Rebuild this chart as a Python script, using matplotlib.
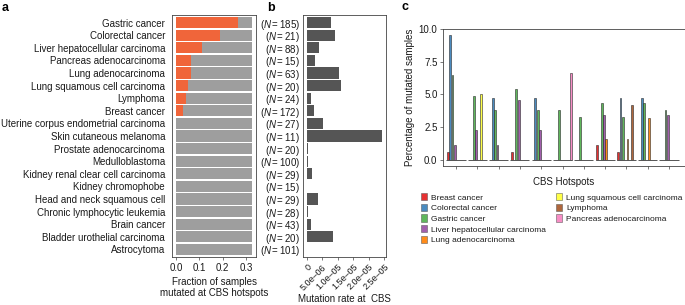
import matplotlib.pyplot as plt
from matplotlib.patches import Patch
import numpy as np

plt.rcParams['font.family'] = ['Liberation Sans', 'DejaVu Sans']
plt.rcParams['mathtext.fontset'] = 'custom'
plt.rcParams['mathtext.rm'] = 'Liberation Sans'
plt.rcParams['mathtext.it'] = 'Liberation Sans:italic'

# panel a / b data
cancers = ["Gastric cancer", "Colorectal cancer", "Liver hepatocellular carcinoma",
           "Pancreas adenocarcinoma", "Lung adenocarcinoma", "Lung squamous cell carcinoma",
           "Lymphoma", "Breast cancer", "Uterine corpus endometrial carcinoma",
           "Skin cutaneous melanoma", "Prostate adenocarcinoma", "Medulloblastoma",
           "Kidney renal clear cell carcinoma", "Kidney chromophobe",
           "Head and neck squamous cell", "Chronic lymphocytic leukemia", "Brain cancer",
           "Bladder urothelial carcinoma", "Astrocytoma"]
n_samples = [185, 21, 88, 15, 63, 20, 24, 172, 27, 11, 20, 100, 29, 15, 29, 28, 43, 20, 101]
frac_mutated = [0.265, 0.19, 0.114, 0.067, 0.063, 0.05, 0.042, 0.029,
                0, 0, 0, 0, 0, 0, 0, 0, 0, 0, 0]
frac_total = 0.327
mut_rate = [7.8e-6, 9.1e-6, 3.9e-6, 2.5e-6, 1.03e-5, 1.11e-5, 1.5e-6, 2.3e-6, 5.2e-6,
            2.44e-5, 0.4e-6, 0.4e-6, 1.6e-6, 0.1e-6, 3.6e-6, 0.4e-6, 1.4e-6, 8.4e-6, 0.1e-6]

# panel c data: percentage of mutated samples per hotspot
hotspot_types = ["Breast cancer", "Colorectal cancer", "Gastric cancer",
                 "Liver hepatocellular carcinoma", "Lung adenocarcinoma",
                 "Lung squamous cell carcinoma", "Lymphoma", "Pancreas adenocarcinoma"]
breast     = [0.58, 0, 0, 0.58, 0, 0, 0, 1.16, 0.58, 0, 0]
colorectal = [9.52, 0, 4.76, 0, 4.76, 0, 0, 0, 4.76, 4.76, 0]
gastric    = [6.49, 4.86, 3.78, 5.41, 3.78, 3.78, 3.24, 4.32, 3.24, 4.32, 3.78]
liver      = [1.14, 2.27, 1.14, 4.55, 2.27, 0, 0, 3.41, 0, 0, 3.41]
lung_adeno = [0, 0, 0, 0, 0, 0, 0, 1.59, 1.59, 3.17, 0]
lung_sq    = [0, 5.0, 0, 0, 0, 0, 0, 0, 0, 0, 0]
lymphoma   = [0, 0, 0, 0, 0, 0, 0, 0, 4.17, 0, 0]
pancreas   = [0, 0, 0, 0, 0, 6.67, 0, 0, 0, 0, 0]
hotspot_colors = ["#E41A1C", "#377EB8", "#4DAF4A", "#984EA3",
                  "#FF7F00", "#FFFF33", "#A65628", "#F781BF"]

W, H = 685, 305
fig = plt.figure(figsize=(6.85, 3.05), dpi=100)

def box(l, t, r, b):
    return [l / W, 1 - b / H, (r - l) / W, (b - t) / H]

txt = "#1a1a1a"
frame = "#444444"

# ---- panel a
axa = fig.add_axes(box(172, 15, 256, 257))
y = np.arange(len(cancers))
axa.barh(y, [frac_total] * len(cancers), height=0.88, color="#9E9E9E")
axa.barh(y, frac_mutated, height=0.88, color="#F0653A")
axa.set_ylim(18.6, -0.6)
axa.set_xlim(-0.0164, 0.3434)
axa.set_yticks(y)
axa.set_yticklabels(cancers, fontsize=7, color=txt)
axa.set_xticks([0, 0.1, 0.2, 0.3])
axa.set_xticklabels(["0.0", "0.1", "0.2", "0.3"], fontsize=7, color=txt)
axa.tick_params(axis="y", length=0, pad=5)
axa.tick_params(axis="x", length=2, width=0.5, pad=2, color=frame)
axa.set_xlabel("Fraction of samples\nmutated at CBS hotspots", fontsize=7, color=txt, labelpad=3)
for s in axa.spines.values():
    s.set_color(frame)
    s.set_linewidth(0.6)

# ---- panel b
axb = fig.add_axes(box(303, 15, 386, 257))
axb.barh(y, mut_rate, height=0.88, color="#555555")
axb.set_ylim(18.6, -0.6)
axb.set_xlim(-1.22e-6, 2.56e-5)
axb.set_yticks(y)
axb.set_yticklabels([r"$(N = %d)$" % n for n in n_samples], fontsize=7, color=txt)
axb.set_xticks([0, 5e-6, 1e-5, 1.5e-5, 2e-5, 2.5e-5])
axb.set_xticklabels(["0", "5.0e\u201306", "1.0e\u201305", "1.5e\u201305", "2.0e\u201305", "2.5e\u201305"],
                    fontsize=6.5, rotation=45, ha="right", rotation_mode="anchor", color=txt)
axb.tick_params(axis="y", length=0, pad=2)
axb.tick_params(axis="x", length=2, width=0.5, pad=2, color=frame)
fig.text(344.5 / W, 2.5 / H, "Mutation rate at  CBS", fontsize=7, color=txt,
         ha="center", va="baseline")
for s in axb.spines.values():
    s.set_color(frame)
    s.set_linewidth(0.6)

# ---- panel c
axc = fig.add_axes(box(443, 29, 685, 166))
series = [breast, colorectal, gastric, liver, lung_adeno, lung_sq, lymphoma, pancreas]
groups = np.arange(len(gastric))
slot = 0.11
for k, (vals, col) in enumerate(zip(series, hotspot_colors)):
    xs = groups + (k - 3.5) * slot
    vals = np.array(vals)
    m = vals > 0
    axc.bar(xs[m], vals[m], width=0.085, color=col, alpha=0.9,
            edgecolor="#2a2a2a", linewidth=0.45)
axc.hlines(np.zeros(len(groups)), groups - 0.45, groups + 0.45, color="#555555", linewidth=0.7)
axc.set_xlim(-0.61, 10.75)
axc.set_ylim(-0.476, 10.0)
axc.set_yticks([0, 2.5, 5, 7.5, 10])
axc.set_yticklabels(["0.0", "2.5", "5.0", "7.5", "10.0"], fontsize=7, color=txt)
axc.set_xticks(groups)
axc.set_xticklabels([])
axc.tick_params(axis="both", length=2, width=0.5, pad=2, color=frame)
axc.set_xlabel("CBS Hotspots", fontsize=7, color=txt, labelpad=4)
axc.set_ylabel("Percentage of mutated samples", fontsize=7, color=txt, labelpad=3)
for s in axc.spines.values():
    s.set_color(frame)
    s.set_linewidth(0.6)

handles = [Patch(facecolor=c, edgecolor="#555555", linewidth=0.4, alpha=0.9) for c in hotspot_colors]
leg_kw = dict(loc="upper left", fontsize=6, frameon=False, handlelength=0.75, handleheight=1.0,
              handletextpad=0.5, labelspacing=0.25, borderaxespad=0, borderpad=0, labelcolor=txt)
fig.legend(handles[:5], hotspot_types[:5], bbox_to_anchor=(421 / W, 1 - 193 / H), **leg_kw)
fig.legend(handles[5:], hotspot_types[5:], bbox_to_anchor=(556 / W, 1 - 193 / H), **leg_kw)

# panel letters
fig.text(2 / W, 1 - 11 / H, "a", fontsize=9, fontweight="bold")
fig.text(267 / W, 1 - 11 / H, "b", fontsize=9, fontweight="bold")
fig.text(401 / W, 1 - 10 / H, "c", fontsize=9, fontweight="bold")

fig.savefig("out.png", dpi=100)
